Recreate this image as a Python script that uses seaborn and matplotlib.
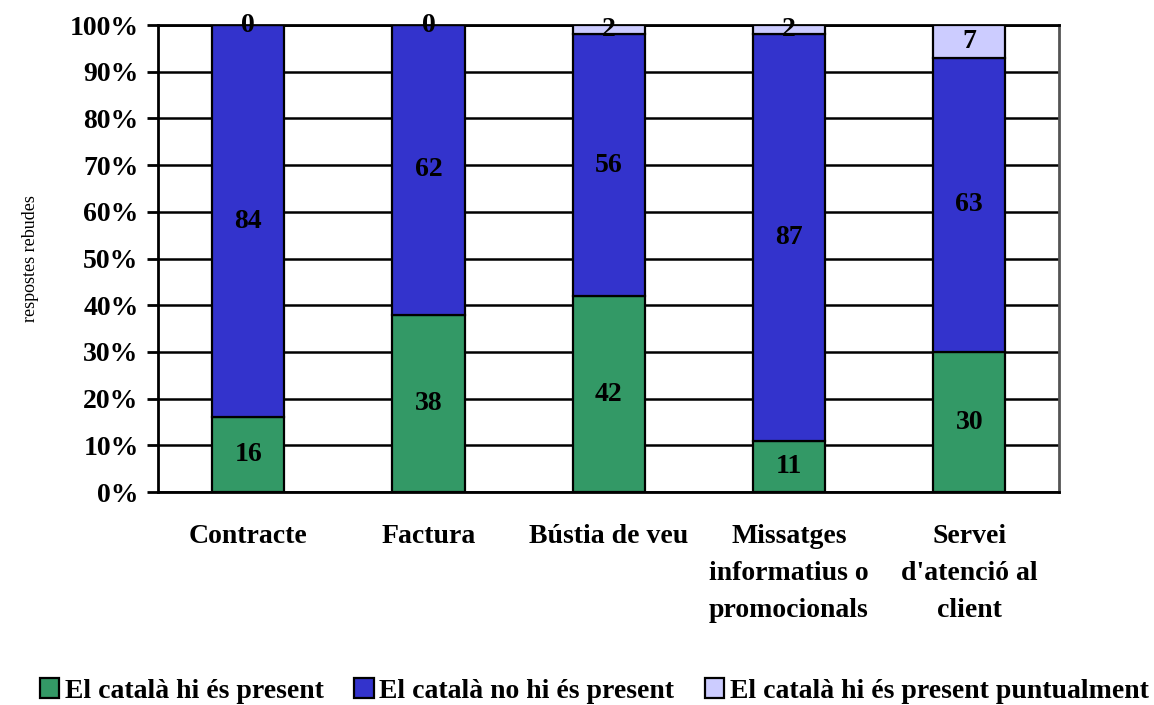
import pandas as pd
import seaborn as sns
import matplotlib.pyplot as plt
from matplotlib.ticker import FixedLocator

categories = ['Contracte', 'Factura', 'Bústia de veu',
              'Missatges\ninformatius o\npromocionals',
              "Servei\nd'atenció al\nclient"]
present = [16, 38, 42, 11, 30]
no_present = [84, 62, 56, 87, 63]
puntual = [0, 0, 2, 2, 7]
series_names = ['El català hi és present', 'El català no hi és present',
                'El català hi és present puntualment']
colors = ['#339966', '#3333CC', '#CCCCFF']

df = pd.DataFrame({'cat': categories, 'present': present,
                   'no': no_present, 'puntual': puntual})

sns.set_style('white')
plt.rcParams['font.family'] = ['Liberation Serif', 'DejaVu Serif']
plt.rcParams['font.weight'] = 'bold'
plt.rcParams['text.color'] = 'black'
plt.rcParams['axes.labelcolor'] = 'black'
plt.rcParams['xtick.color'] = 'black'
plt.rcParams['ytick.color'] = 'black'

fs = 20
fig = plt.figure(figsize=(11.54, 7.05), dpi=100)
ax = fig.add_axes([0.137, 0.302, 0.781, 0.6625])

bottom = [0] * len(categories)
for col, name, color in zip(['present', 'no', 'puntual'], series_names, colors):
    sns.barplot(data=df, x='cat', y=col, color=color, saturation=1, bottom=bottom,
                width=0.4, edgecolor='black', linewidth=1.6, label=name, ax=ax, zorder=3)
    bottom = [b + v for b, v in zip(bottom, df[col])]

for cont in ax.containers:
    ax.bar_label(cont, label_type='center', fontsize=fs, fontweight='bold',
                 color='black', zorder=5)

ax.set_ylim(0, 100)
ax.set_xlim(-0.5, 4.5)
ax.set_yticks(range(0, 101, 10))
ax.set_yticklabels([f'{v}%' for v in range(0, 101, 10)], fontsize=fs, fontweight='bold')
ax.set_xticks(range(len(categories)))
ax.set_xticklabels(categories, fontsize=fs, fontweight='bold', linespacing=1.62)
ax.xaxis.set_minor_locator(FixedLocator([i - 0.5 for i in range(len(categories) + 1)]))
ax.tick_params(axis='x', which='major', length=0, pad=23)
ax.tick_params(axis='x', which='minor', length=10, width=2, direction='out')
ax.tick_params(axis='y', length=8, width=2, direction='out', pad=6, left=True)
ax.yaxis.grid(True, color='black', linewidth=1.8, zorder=0)
ax.set_axisbelow(True)
for s in ax.spines.values():
    s.set_visible(True)
    s.set_color('black')
    s.set_linewidth(2)
ax.spines['right'].set_color('#555555')

ax.set_xlabel('')
ax.set_ylabel('respostes rebudes', fontsize=13, fontweight='normal', labelpad=22)

handles, labels = ax.get_legend_handles_labels()
if ax.get_legend():
    ax.get_legend().remove()
fig.legend(handles, labels, loc='center', bbox_to_anchor=(0.515, 0.02), ncol=3,
           frameon=False, fontsize=fs, handlelength=0.7, handleheight=0.7,
           handletextpad=0.2, columnspacing=1.1)

fig.savefig('out.png', dpi=100)
